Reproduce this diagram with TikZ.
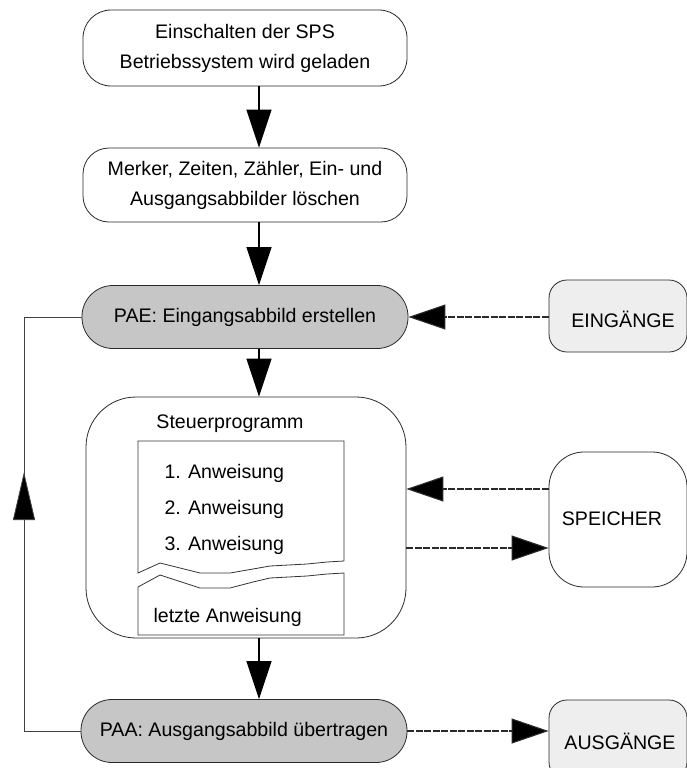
\documentclass[tikz,border=0pt]{standalone}
\usepackage{fontspec}
\setmainfont{Liberation Sans}
\usetikzlibrary{arrows.meta,calc}
\definecolor{pgray}{HTML}{C6C6C6}
\definecolor{lgray}{HTML}{EEEEEE}
\definecolor{edge}{HTML}{2A2A2A}
\begin{document}
\begin{tikzpicture}[x=1pt,y=-1pt,
  every node/.style={font=\fontsize{19.6}{30}\selectfont},
  box/.style={draw=edge,line width=0.8pt,fill=white,align=center,inner sep=0pt},
  proc/.style={box,fill=pgray,rounded corners=31pt,minimum width=326pt,minimum height=63pt},
  io/.style={box,fill=lgray},
  varr/.style={line width=1.5pt,-{Triangle[length=38pt,width=25pt]}},
  darr/.style={line width=1.1pt,draw=edge,dash pattern=on 7pt off 1.5pt,-{Triangle[length=37pt,width=25pt,fill=black]}},
  fb/.style={line width=0.8pt,draw=black!75},
  paper/.style={draw=black!80,line width=0.8pt,fill=white}]
\clip (0,0) rectangle (687,768);
\fill[white] (0,0) rectangle (687,768);
\coordinate (ax) at (259,0);
% main boxes
\node[box,rounded corners=28pt,minimum width=324pt,minimum height=76pt] (b1) at (245,48) {Einschalten der SPS\\Betriebssystem wird geladen};
\node[box,rounded corners=26pt,minimum width=324pt,minimum height=74pt] (b2) at (245,185) {Merker, Zeiten, Zähler, Ein- und\\Ausgangsabbilder löschen};
\node[proc] (pae) at (245,317) {PAE: Eingangsabbild erstellen};
\node[box,rounded corners=50pt,minimum width=320pt,minimum height=241pt] (st) at (246,517.5) {};
\node[proc] (paa) at (244,731) {PAA: Ausgangsabbild übertragen};
% side boxes
\node[io,rounded corners=18pt,minimum width=138pt,minimum height=72pt] (ein) at (618,316) {};
\node (eint) at (623,319) {EINGÄNGE};
\node[box,rounded corners=35pt,minimum width=138pt,minimum height=135pt] (sp) at (618,519.5) {};
\node (spt) at (612,519) {SPEICHER};
\node[io,rounded corners=18pt,minimum width=138pt,minimum height=80pt] (aus) at (618,740) {};
\node (aust) at (620,741) {AUSGÄNGE};
% program sheet
\path[paper] (344,561) -- (344,441) -- (138,441) -- (138,573) -- (160,563) -- (200,573) -- (230,573) -- (253,569) -- (270,566) -- (307,564) -- (327,562) -- (344,561);
\path[paper] (138,587) -- (160,575) -- (200,588) -- (230,588) -- (253,582) -- (270,578) -- (307,576) -- (327,574) -- (344,573) -- (344,635) -- (138,635) -- cycle;
\node (stt) at (230,424) {Steuerprogramm};
\node[anchor=base west] (a1) at (161,478) {1. Anweisung};
\node[anchor=base west] (a2) at (161,514) {2. Anweisung};
\node[anchor=base west] (a3) at (161,550) {3. Anweisung};
\node[anchor=base west] (a4) at (150,622) {letzte Anweisung};
% vertical arrows
\draw[varr] (b1.south -| ax) -- (b2.north -| ax);
\draw[varr] (b2.south -| ax) -- (pae.north -| ax);
\draw[varr] (pae.south -| ax) -- (st.north -| ax);
\draw[varr] (st.south -| ax) -- (paa.north -| ax);
% dashed arrows
\coordinate (s1) at (0,489);
\coordinate (s2) at (0,548);
\draw[darr] (ein.west |- pae.east) -- (pae.east);
\draw[darr] (sp.west |- s1) -- (st.east |- s1);
\draw[darr] (st.east |- s2) -- (sp.west |- s2);
\draw[darr] (paa.east) -- (aus.west |- paa.east);
% feedback
\coordinate (fbx) at (24,0);
\coordinate (fbA) at (24,521);
\coordinate (fbB) at (24,472);
\draw[fb] (paa.west) -| (fbx |- pae.west) -- (pae.west);
\draw[fb,-{Triangle[length=48pt,width=22pt,fill=black]}] (fbA) -- (fbB);
\end{tikzpicture}
\end{document}
